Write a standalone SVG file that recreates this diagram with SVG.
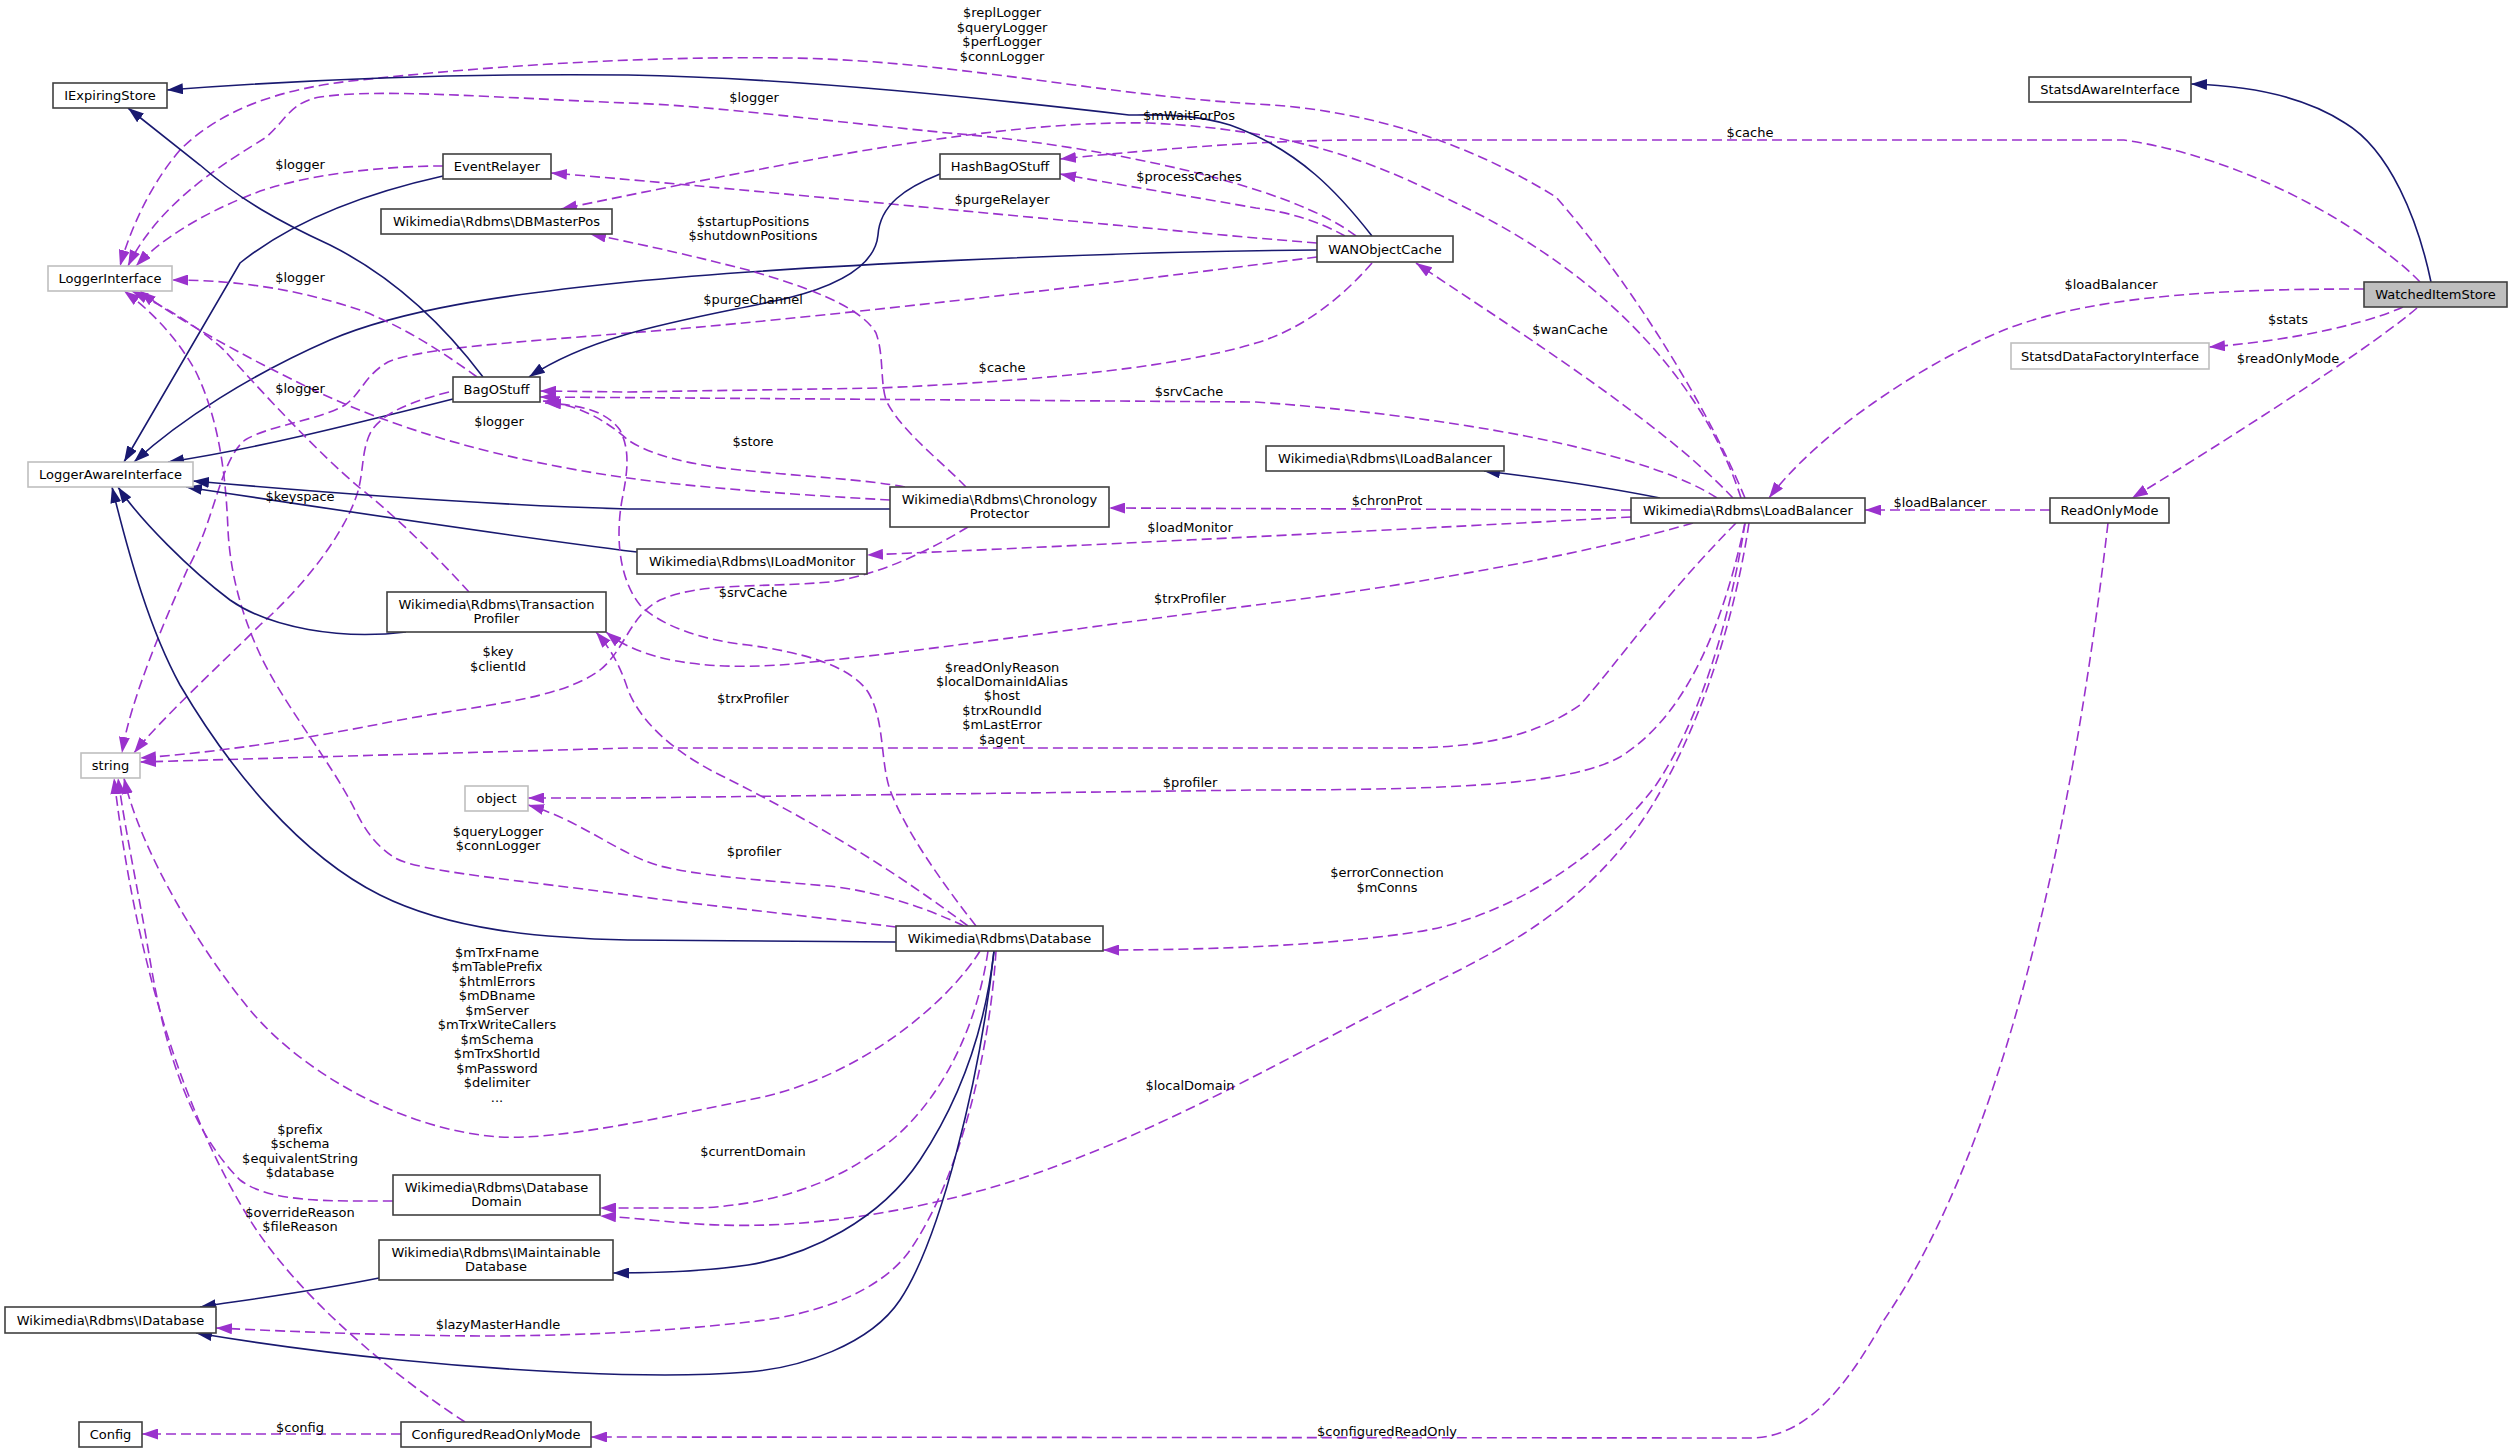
<svg xmlns="http://www.w3.org/2000/svg" width="2512" height="1453" viewBox="0 0 2512 1453">
<style>
.n rect{fill:#fff;stroke:#404040;stroke-width:1.6}
.n.g rect{stroke:#bfbfbf}
.n.h rect{fill:#bfbfbf}
text{font-family:"DejaVu Sans","Liberation Sans",sans-serif;font-size:13px;fill:#000;text-anchor:middle}
.s{fill:none;stroke:#191970;stroke-width:1.6;marker-end:url(#as)}
.d{fill:none;stroke:#9a32cd;stroke-width:1.6;stroke-dasharray:10,5;marker-end:url(#ad)}
</style>
<defs>
<marker id="as" markerUnits="userSpaceOnUse" markerWidth="16" markerHeight="11" viewBox="0 0 16 11" refX="16" refY="5.5" orient="auto"><path d="M0,0 L16,5.5 L0,11 z" fill="#191970"/></marker>
<marker id="ad" markerUnits="userSpaceOnUse" markerWidth="16" markerHeight="11" viewBox="0 0 16 11" refX="16" refY="5.5" orient="auto"><path d="M0,0 L16,5.5 L0,11 z" fill="#9a32cd"/></marker>
</defs>
<rect width="2512" height="1453" fill="#fff"/>
<g id="connectors">
<path class="s" d="M2431,282 C2418,220 2390,150 2345,123 C2310,100 2260,86 2191,84"/>
<path class="d" d="M2420,282 C2380,240 2260,160 2124,140 L1350,140 C1250,141 1150,150 1060,159"/>
<path class="d" d="M2364,289 C2250,289 2100,292 2004,330 C1930,360 1820,430 1769,498"/>
<path class="d" d="M2403,307 C2370,322 2300,340 2209,347"/>
<path class="d" d="M2417,308 C2380,340 2260,420 2132,498"/>
<path class="d" d="M2050,510 L1865,510"/>
<path class="d" d="M2108,523 C2070,850 2000,1150 1884,1320 C1850,1380 1810,1438 1750,1438 L591,1437"/>
<path class="d" d="M401,1434 L142,1434"/>
<path class="d" d="M465,1422 C400,1380 300,1300 250,1220 C200,1140 140,1000 114,778"/>
<path class="d" d="M393,1201 C330,1201 270,1203 240,1180 C190,1130 165,1050 150,960 C140,900 125,830 118,778"/>
<path class="d" d="M980,951 C950,1000 860,1080 748,1100 C660,1118 560,1140 500,1137 C400,1130 300,1070 250,1010 C200,950 140,850 124,778"/>
<path class="d" d="M988,951 C975,1040 930,1120 868,1157 C820,1190 760,1205 700,1208 L600,1208"/>
<path class="d" d="M1749,523 C1730,650 1680,780 1620,850 C1560,920 1500,950 1420,990 C1300,1050 1150,1140 1000,1185 C900,1215 800,1228 720,1225 C680,1224 640,1218 600,1216"/>
<path class="d" d="M1745,523 C1730,620 1700,720 1656,785 C1600,860 1500,920 1416,932 C1350,942 1250,950 1103,950"/>
<path class="d" d="M1745,523 C1720,640 1680,720 1620,757 C1570,785 1450,790 1256,790 L628,798 L528,798"/>
<path class="d" d="M1736,523 C1660,600 1620,660 1580,705 C1530,740 1470,748 1400,748 L628,748 L140,762"/>
<path class="d" d="M1693,523 C1600,550 1450,580 1256,605 C1100,625 900,655 780,665 C700,670 640,660 606,632"/>
<path class="d" d="M1631,517 C1450,527 1100,545 867,555"/>
<path class="d" d="M1631,510 L1109,508"/>
<path class="s" d="M1660,498 C1620,490 1560,480 1484,471"/>
<path class="d" d="M1717,498 C1660,460 1500,420 1256,402 L540,397"/>
<path class="d" d="M1733,498 C1660,420 1500,320 1416,263"/>
<path class="d" d="M1741,498 C1710,400 1620,280 1456,203 C1380,165 1300,130 1149,123 C1000,120 800,160 561,209"/>
<path class="d" d="M1745,498 C1700,390 1620,270 1556,197 C1480,150 1380,110 1256,104 C1100,95 950,60 788,58 C650,56 500,65 360,80 C280,88 220,110 180,150 C150,185 130,230 120,266"/>
<path class="d" d="M1356,236 C1290,185 1100,145 948,133 C800,118 700,105 628,103 C500,98 380,88 320,97 C290,102 285,122 265,138 C230,160 160,200 128,266"/>
<path class="d" d="M1345,236 C1320,222 1290,212 1256,208 C1200,198 1120,185 1060,174"/>
<path class="d" d="M1317,243 L1256,238 C1000,215 700,185 551,173"/>
<path class="s" d="M1317,250 C1100,252 800,265 628,282 C500,295 400,310 330,340 C250,375 180,420 134,462"/>
<path class="d" d="M1317,257 C1100,285 800,320 628,333 C520,342 420,348 388,362 C365,375 360,395 345,405 C320,420 270,425 245,440 C220,460 215,520 188,568 C165,620 130,700 122,753"/>
<path class="s" d="M1372,236 C1340,195 1300,150 1230,125 C1190,113 1150,115 1129,115 C1000,100 800,78 628,75 C450,73 300,80 167,90"/>
<path class="d" d="M1372,263 C1340,300 1300,330 1256,343 C1200,360 1100,378 880,388 L628,392 L540,391"/>
<path class="s" d="M940,174 C905,188 880,205 878,235 C875,265 840,285 788,298 C700,318 600,330 529,377"/>
<path class="s" d="M443,176 C380,190 300,215 240,263 L124,462"/>
<path class="d" d="M443,166 C380,166 300,175 250,195 C200,215 160,240 136,266"/>
<path class="d" d="M477,377 C440,350 400,325 360,310 C300,290 240,280 172,280"/>
<path class="s" d="M483,377 C440,320 390,275 330,245 C280,222 240,200 200,165 L128,108"/>
<path class="s" d="M453,399 C350,425 250,450 168,462"/>
<path class="d" d="M449,392 C410,402 385,412 372,430 C360,450 365,475 355,500 C340,540 300,590 260,625 C220,665 160,720 134,753"/>
<path class="d" d="M890,500 C800,495 700,488 628,478 C500,460 400,430 320,393 C240,355 170,315 140,291"/>
<path class="d" d="M469,592 C440,560 400,520 360,488 C320,455 260,390 224,350 C190,320 160,305 132,291"/>
<path class="d" d="M896,927 C800,915 700,905 628,895 C520,880 420,872 395,858 C375,845 365,830 355,810 C330,760 280,700 258,650 C240,610 230,570 228,530 C226,480 220,420 195,370 C175,335 150,310 124,291"/>
<path class="s" d="M890,509 L628,509 C480,505 330,493 193,481"/>
<path class="s" d="M637,552 C500,535 350,512 186,487"/>
<path class="s" d="M406,632 C340,640 270,628 230,600 C190,570 140,520 118,487"/>
<path class="s" d="M896,942 L628,940 C540,938 450,930 380,895 C300,855 230,770 180,685 C150,630 130,560 112,487"/>
<path class="d" d="M905,487 C870,480 800,476 740,470 C690,465 650,455 628,440 C605,420 580,405 543,401"/>
<path class="d" d="M976,926 C940,880 905,830 890,790 C880,760 885,720 868,692 C850,665 800,652 748,645 C700,640 660,625 640,605 C620,580 615,540 622,500 C628,470 630,450 620,430 C605,410 580,405 545,403"/>
<path class="d" d="M966,487 C940,460 900,430 886,400 C880,380 884,355 876,333 C860,305 800,285 748,270 C700,258 660,248 590,234"/>
<path class="d" d="M968,527 C930,550 880,575 830,582 C760,588 700,582 660,600 C630,615 625,650 600,670 C560,700 480,705 400,720 C300,740 220,752 140,758"/>
<path class="d" d="M968,926 C880,860 800,815 720,775 C670,750 640,720 628,690 C620,665 610,648 596,632"/>
<path class="d" d="M964,926 C920,905 870,890 828,886 C760,880 700,876 660,866 C620,855 580,820 528,805"/>
<path class="s" d="M379,1278 C320,1290 260,1298 200,1307"/>
<path class="s" d="M994,951 C985,1030 960,1100 920,1160 C880,1220 810,1255 748,1265 C700,1272 650,1273 613,1273"/>
<path class="d" d="M996,951 C990,1050 960,1180 908,1253 C880,1290 820,1315 748,1322 C680,1330 600,1335 500,1336 C400,1336 300,1332 216,1328"/>
<path class="s" d="M994,951 C980,1080 940,1240 900,1300 C870,1345 800,1368 748,1372 C650,1380 500,1370 400,1360 C320,1352 250,1342 196,1333"/>
</g>
<g id="edge-labels">
<text x="1002" y="16.5">$replLogger</text>
<text x="1002" y="31.5">$queryLogger</text>
<text x="1002" y="45.5">$perfLogger</text>
<text x="1002" y="60.5">$connLogger</text>
<text x="754" y="101.5">$logger</text>
<text x="1750" y="136.5">$cache</text>
<text x="1189" y="119.5">$mWaitForPos</text>
<text x="300" y="168.5">$logger</text>
<text x="1189" y="180.5">$processCaches</text>
<text x="1002" y="203.5">$purgeRelayer</text>
<text x="753" y="225.5">$startupPositions</text>
<text x="753" y="239.5">$shutdownPositions</text>
<text x="300" y="281.5">$logger</text>
<text x="2111" y="288.5">$loadBalancer</text>
<text x="753" y="303.5">$purgeChannel</text>
<text x="2288" y="323.5">$stats</text>
<text x="1570" y="333.5">$wanCache</text>
<text x="2288" y="362.5">$readOnlyMode</text>
<text x="1002" y="371.5">$cache</text>
<text x="300" y="392.5">$logger</text>
<text x="1189" y="395.5">$srvCache</text>
<text x="499" y="425.5">$logger</text>
<text x="753" y="445.5">$store</text>
<text x="300" y="500.5">$keyspace</text>
<text x="1387" y="504.5">$chronProt</text>
<text x="1940" y="506.5">$loadBalancer</text>
<text x="1190" y="531.5">$loadMonitor</text>
<text x="753" y="596.5">$srvCache</text>
<text x="1190" y="602.5">$trxProfiler</text>
<text x="498" y="655.5">$key</text>
<text x="498" y="670.5">$clientId</text>
<text x="1002" y="671.5">$readOnlyReason</text>
<text x="1002" y="685.5">$localDomainIdAlias</text>
<text x="1002" y="699.5">$host</text>
<text x="1002" y="714.5">$trxRoundId</text>
<text x="1002" y="728.5">$mLastError</text>
<text x="1002" y="743.5">$agent</text>
<text x="753" y="702.5">$trxProfiler</text>
<text x="1190" y="786.5">$profiler</text>
<text x="498" y="835.5">$queryLogger</text>
<text x="498" y="849.5">$connLogger</text>
<text x="754" y="855.5">$profiler</text>
<text x="1387" y="876.5">$errorConnection</text>
<text x="1387" y="891.5">$mConns</text>
<text x="497" y="956.5">$mTrxFname</text>
<text x="497" y="971">$mTablePrefix</text>
<text x="497" y="985.5">$htmlErrors</text>
<text x="497" y="1000">$mDBname</text>
<text x="497" y="1014.5">$mServer</text>
<text x="497" y="1029">$mTrxWriteCallers</text>
<text x="497" y="1043.5">$mSchema</text>
<text x="497" y="1058">$mTrxShortId</text>
<text x="497" y="1072.5">$mPassword</text>
<text x="497" y="1087">$delimiter</text>
<text x="497" y="1101.5">...</text>
<text x="1190" y="1089.5">$localDomain</text>
<text x="300" y="1133.5">$prefix</text>
<text x="300" y="1148">$schema</text>
<text x="300" y="1162.5">$equivalentString</text>
<text x="300" y="1177">$database</text>
<text x="753" y="1155.5">$currentDomain</text>
<text x="300" y="1216.5">$overrideReason</text>
<text x="300" y="1231">$fileReason</text>
<text x="498" y="1328.5">$lazyMasterHandle</text>
<text x="300" y="1431.5">$config</text>
<text x="1387" y="1435.5">$configuredReadOnly</text>
</g>
<g id="WatchedItemStore" class="n h"><rect x="2364" y="282" width="143" height="25"/><text x="2435.5" y="299">WatchedItemStore</text></g>
<g id="StatsdAwareInterface" class="n"><rect x="2029" y="77" width="162" height="25"/><text x="2110" y="94">StatsdAwareInterface</text></g>
<g id="StatsdDataFactoryInterface" class="n g"><rect x="2011" y="343" width="198" height="26"/><text x="2110" y="360.5">StatsdDataFactoryInterface</text></g>
<g id="ReadOnlyMode" class="n"><rect x="2050" y="498" width="119" height="25"/><text x="2109.5" y="515">ReadOnlyMode</text></g>
<g id="LoadBalancer" class="n"><rect x="1631" y="498" width="234" height="25"/><text x="1748" y="515">Wikimedia\Rdbms\LoadBalancer</text></g>
<g id="ILoadBalancer" class="n"><rect x="1266" y="446" width="238" height="25"/><text x="1385" y="463">Wikimedia\Rdbms\ILoadBalancer</text></g>
<g id="WANObjectCache" class="n"><rect x="1317" y="236" width="136" height="26"/><text x="1385" y="253.5">WANObjectCache</text></g>
<g id="HashBagOStuff" class="n"><rect x="940" y="154" width="120" height="25"/><text x="1000" y="171">HashBagOStuff</text></g>
<g id="ChronologyProtector" class="n"><rect x="890" y="487" width="219" height="40"/><text x="999.5" y="503.5">Wikimedia\Rdbms\Chronology</text><text x="999.5" y="517.5">Protector</text></g>
<g id="ILoadMonitor" class="n"><rect x="637" y="549" width="230" height="25"/><text x="752" y="566">Wikimedia\Rdbms\ILoadMonitor</text></g>
<g id="Database" class="n"><rect x="896" y="926" width="207" height="25"/><text x="999.5" y="943">Wikimedia\Rdbms\Database</text></g>
<g id="IExpiringStore" class="n"><rect x="53" y="83" width="114" height="25"/><text x="110" y="100">IExpiringStore</text></g>
<g id="LoggerInterface" class="n g"><rect x="48" y="266" width="124" height="25"/><text x="110" y="283">LoggerInterface</text></g>
<g id="LoggerAwareInterface" class="n g"><rect x="28" y="462" width="165" height="25"/><text x="110.5" y="479">LoggerAwareInterface</text></g>
<g id="EventRelayer" class="n"><rect x="443" y="154" width="108" height="25"/><text x="497" y="171">EventRelayer</text></g>
<g id="DBMasterPos" class="n"><rect x="381" y="209" width="231" height="25"/><text x="496.5" y="226">Wikimedia\Rdbms\DBMasterPos</text></g>
<g id="BagOStuff" class="n"><rect x="453" y="377" width="87" height="25"/><text x="496.5" y="394">BagOStuff</text></g>
<g id="TransactionProfiler" class="n"><rect x="387" y="592" width="219" height="40"/><text x="496.5" y="608.5">Wikimedia\Rdbms\Transaction</text><text x="496.5" y="622.5">Profiler</text></g>
<g id="string" class="n g"><rect x="81" y="753" width="59" height="25"/><text x="110.5" y="770">string</text></g>
<g id="object" class="n g"><rect x="465" y="786" width="63" height="25"/><text x="496.5" y="803">object</text></g>
<g id="DatabaseDomain" class="n"><rect x="393" y="1175" width="207" height="40"/><text x="496.5" y="1191.5">Wikimedia\Rdbms\Database</text><text x="496.5" y="1205.5">Domain</text></g>
<g id="IMaintainableDatabase" class="n"><rect x="379" y="1240" width="234" height="40"/><text x="496" y="1256.5">Wikimedia\Rdbms\IMaintainable</text><text x="496" y="1270.5">Database</text></g>
<g id="IDatabase" class="n"><rect x="5" y="1307" width="211" height="26"/><text x="110.5" y="1324.5">Wikimedia\Rdbms\IDatabase</text></g>
<g id="Config" class="n"><rect x="79" y="1422" width="63" height="25"/><text x="110.5" y="1439">Config</text></g>
<g id="ConfiguredReadOnlyMode" class="n"><rect x="401" y="1422" width="190" height="25"/><text x="496" y="1439">ConfiguredReadOnlyMode</text></g>
</svg>
